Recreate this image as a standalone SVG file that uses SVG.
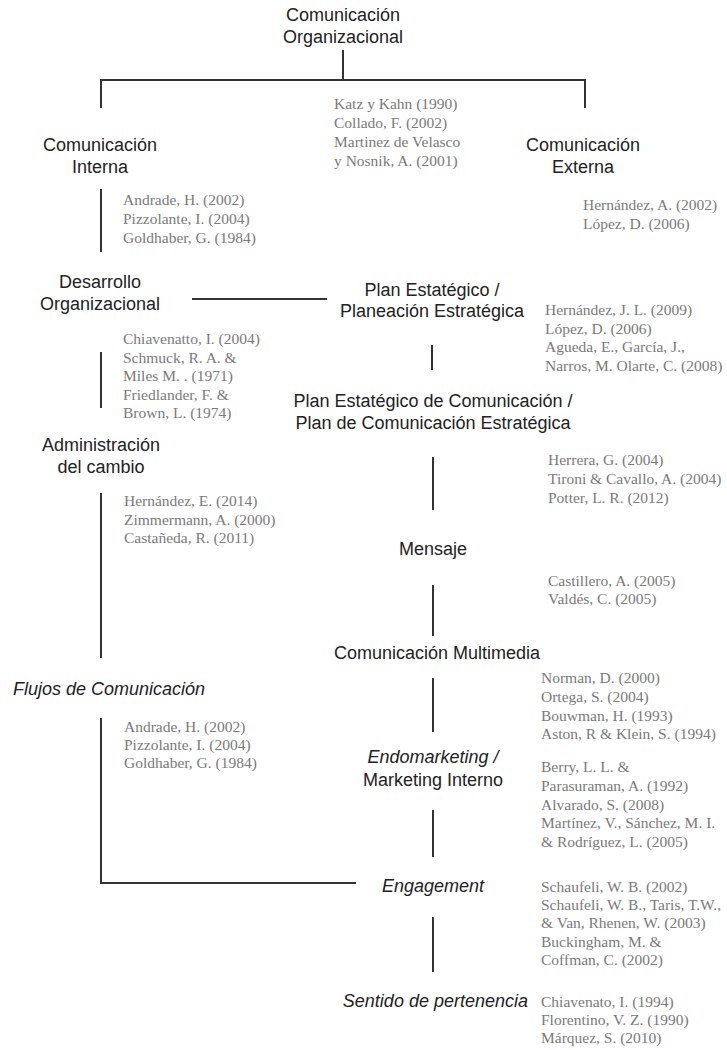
<svg xmlns="http://www.w3.org/2000/svg" width="727" height="1050" viewBox="0 0 727 1050">
<style>
.h{font-family:"Liberation Sans",Arial,sans-serif;font-size:18px;fill:#222;text-anchor:middle}
.i{font-style:italic}
.r{font-family:"Liberation Serif","Times New Roman",serif;font-size:15.5px;fill:#7a7a7a}
.c line{stroke:#333;stroke-width:2}
</style>
<rect width="727" height="1050" fill="#fff"/>
<g class="c" id="connectors">
<line x1="343" y1="50" x2="343" y2="80"/>
<line x1="100" y1="80" x2="586" y2="80"/>
<line x1="101" y1="79" x2="101" y2="108"/>
<line x1="585" y1="79" x2="585" y2="108"/>
<line x1="101" y1="189" x2="101" y2="252"/>
<line x1="192" y1="299" x2="327" y2="299"/>
<line x1="432" y1="345" x2="432" y2="370"/>
<line x1="101" y1="352" x2="101" y2="408"/>
<line x1="433" y1="457" x2="433" y2="510"/>
<line x1="101" y1="493" x2="101" y2="658"/>
<line x1="433" y1="585" x2="433" y2="636"/>
<line x1="433" y1="678" x2="433" y2="732"/>
<line x1="101" y1="718" x2="101" y2="884"/>
<line x1="100" y1="883" x2="356" y2="883"/>
<line x1="433" y1="810" x2="433" y2="857"/>
<line x1="433" y1="917" x2="433" y2="972"/>
</g>
<g id="n-org"><text class="h" x="343" y="21">Comunicación</text><text class="h" x="343" y="43">Organizacional</text></g>
<g id="r-org" class="r"><text x="334" y="109">Katz y Kahn (1990)</text><text x="334" y="128">Collado, F. (2002)</text><text x="334" y="147">Martinez de Velasco</text><text x="334" y="166">y Nosnik, A. (2001)</text></g>
<g id="n-interna"><text class="h" x="100" y="151">Comunicación</text><text class="h" x="100" y="173">Interna</text></g>
<g id="n-externa"><text class="h" x="583" y="151">Comunicación</text><text class="h" x="583" y="173">Externa</text></g>
<g id="r-interna" class="r"><text x="123" y="205">Andrade, H. (2002)</text><text x="123" y="224">Pizzolante, I. (2004)</text><text x="123" y="243">Goldhaber, G. (1984)</text></g>
<g id="r-externa" class="r"><text x="583" y="210">Hernández, A. (2002)</text><text x="583" y="229">López, D. (2006)</text></g>
<g id="n-desarrollo"><text class="h" x="100" y="288">Desarrollo</text><text class="h" x="100" y="310">Organizacional</text></g>
<g id="n-plan"><text class="h" x="432" y="296">Plan Estatégico /</text><text class="h" x="432" y="317">Planeación Estratégica</text></g>
<g id="r-plan" class="r"><text x="545" y="315">Hernández, J. L. (2009)</text><text x="545" y="334">López, D. (2006)</text><text x="545" y="352">Agueda, E., García, J.,</text><text x="545" y="371">Narros, M. Olarte, C. (2008)</text></g>
<g id="r-desarrollo" class="r"><text x="123" y="344">Chiavenatto, I. (2004)</text><text x="123" y="363">Schmuck, R. A. &amp;</text><text x="123" y="381">Miles M. . (1971)</text><text x="123" y="400">Friedlander, F. &amp;</text><text x="123" y="418">Brown, L. (1974)</text></g>
<g id="n-plancom"><text class="h" x="433" y="407">Plan Estatégico de Comunicación /</text><text class="h" x="433" y="429">Plan de Comunicación Estratégica</text></g>
<g id="n-admin"><text class="h" x="101" y="451">Administración</text><text class="h" x="101" y="473">del cambio</text></g>
<g id="r-plancom" class="r"><text x="548" y="465">Herrera, G. (2004)</text><text x="548" y="484">Tironi &amp; Cavallo, A. (2004)</text><text x="548" y="503">Potter, L. R. (2012)</text></g>
<g id="r-admin" class="r"><text x="124" y="506">Hernández, E. (2014)</text><text x="124" y="525">Zimmermann, A. (2000)</text><text x="124" y="543">Castañeda, R. (2011)</text></g>
<g id="n-mensaje"><text class="h" x="433" y="555">Mensaje</text></g>
<g id="r-mensaje" class="r"><text x="548" y="586">Castillero, A. (2005)</text><text x="548" y="604">Valdés, C. (2005)</text></g>
<g id="n-multimedia"><text class="h" x="437" y="659">Comunicación Multimedia</text></g>
<g id="n-flujos"><text class="h i" x="13" y="695" style="text-anchor:start">Flujos de Comunicación</text></g>
<g id="r-multimedia" class="r"><text x="541" y="683">Norman, D. (2000)</text><text x="541" y="702">Ortega, S. (2004)</text><text x="541" y="721">Bouwman, H. (1993)</text><text x="541" y="739">Aston, R &amp; Klein, S. (1994)</text></g>
<g id="r-flujos" class="r"><text x="124" y="732">Andrade, H. (2002)</text><text x="124" y="750">Pizzolante, I. (2004)</text><text x="124" y="768">Goldhaber, G. (1984)</text></g>
<g id="n-endo"><text class="h i" x="433" y="763">Endomarketing /</text><text class="h" x="433" y="786">Marketing Interno</text></g>
<g id="r-endo" class="r"><text x="541" y="772">Berry, L. L. &amp;</text><text x="541" y="791">Parasuraman, A. (1992)</text><text x="541" y="810">Alvarado, S. (2008)</text><text x="541" y="828">Martínez, V., Sánchez, M. I.</text><text x="541" y="847">&amp; Rodríguez, L. (2005)</text></g>
<g id="n-engagement"><text class="h i" x="433" y="892">Engagement</text></g>
<g id="r-engagement" class="r"><text x="541" y="892">Schaufeli, W. B. (2002)</text><text x="541" y="910">Schaufeli, W. B., Taris, T.W.,</text><text x="541" y="928">&amp; Van, Rhenen, W. (2003)</text><text x="541" y="947">Buckingham, M. &amp;</text><text x="541" y="965">Coffman, C. (2002)</text></g>
<g id="n-sentido"><text class="h i" x="528" y="1007" style="text-anchor:end">Sentido de pertenencia</text></g>
<g id="r-sentido" class="r"><text x="541" y="1007">Chiavenato, I. (1994)</text><text x="541" y="1025">Florentino, V. Z. (1990)</text><text x="541" y="1043">Márquez, S. (2010)</text></g>
</svg>
